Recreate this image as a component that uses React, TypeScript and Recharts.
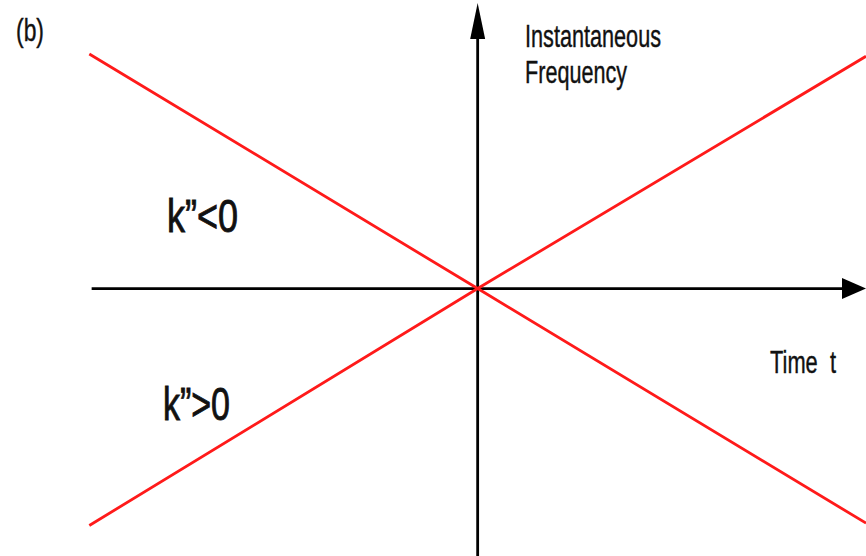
import { LineChart, Line, XAxis, YAxis, ReferenceLine } from 'recharts';

// time axis positions of the drawn segments
const timePoints = [-1, 0, 1];
// frequency along the k" < 0 line (falling) and k" > 0 line (rising)
const fallingFreq = [1, 0, -1];
const risingFreq = [-1.01, 0, 0.99];

const data = timePoints.map((t, i) => ({ t, falling: fallingFreq[i], rising: risingFreq[i] }));

const X_DOMAIN: [number, number] = [-1.23, 1.0];
const Y_DOMAIN: [number, number] = [-1.14, 1.23];

const W = 866;
const H = 556;
const FONT = '"Liberation Sans", Arial, sans-serif';

// reference line drawn as a shaft ending in a filled arrowhead
const arrowShape = (headLen: number, headHalf: number) => (props: any) => {
  const { x1, y1, x2, y2 } = props;
  const dx = x2 - x1;
  const dy = y2 - y1;
  const len = Math.sqrt(dx * dx + dy * dy) || 1;
  const ux = dx / len;
  const uy = dy / len;
  const bx = x2 - ux * headLen;
  const by = y2 - uy * headLen;
  const px = -uy * headHalf;
  const py = ux * headHalf;
  return (
    <g>
      <line x1={x1} y1={y1} x2={bx} y2={by} stroke="#000" strokeWidth={2.8} />
      <polygon points={`${x2},${y2} ${bx + px},${by + py} ${bx - px},${by - py}`} fill="#000" />
    </g>
  );
};

const Label = ({ x, y, size, len, weight = 0.4, children }: any) => (
  <text
    x={x}
    y={y}
    fontSize={size}
    fontFamily={FONT}
    fill="#111"
    stroke="#111"
    strokeWidth={weight}
    textLength={len}
    lengthAdjust="spacingAndGlyphs"
  >
    {children}
  </text>
);

export default function App() {
  return (
    <div style={{ position: 'absolute', left: 0, top: 0, width: W, height: H, background: '#fff' }}>
      <LineChart width={W} height={H} data={data} margin={{ top: 0, right: 0, bottom: 0, left: 0 }}>
        <XAxis dataKey="t" type="number" domain={X_DOMAIN} hide allowDataOverflow />
        <YAxis type="number" domain={Y_DOMAIN} hide allowDataOverflow />
        <ReferenceLine
          segment={[{ x: -0.994, y: 0 }, { x: 1.0, y: 0 }]}
          shape={arrowShape(24, 10.5)}
          ifOverflow="visible"
        />
        <ReferenceLine
          segment={[{ x: 0, y: -1.14 }, { x: 0, y: 1.217 }]}
          shape={arrowShape(36, 7.5)}
          ifOverflow="visible"
        />
        <Line
          dataKey="falling"
          stroke="#ff1a1a"
          strokeWidth={2.8}
          strokeLinecap="butt"
          dot={false}
          activeDot={false}
          isAnimationActive={false}
        />
        <Line
          dataKey="rising"
          stroke="#ff1a1a"
          strokeWidth={2.8}
          strokeLinecap="butt"
          dot={false}
          activeDot={false}
          isAnimationActive={false}
        />
      </LineChart>
      <svg width={W} height={H} style={{ position: 'absolute', left: 0, top: 0, pointerEvents: 'none' }}>
        <Label x={16} y={41} size={32} len={28}>(b)</Label>
        <Label x={525} y={47} size={31} len={136}>Instantaneous</Label>
        <Label x={525} y={83} size={31} len={102}>Frequency</Label>
        <Label x={770} y={373} size={31} len={66}>{'Time\u00a0\u00a0t'}</Label>
        <Label x={167} y={232} size={46} len={71} weight={0.9}>k”&lt;0</Label>
        <Label x={163} y={420} size={46} len={67} weight={0.9}>k”&gt;0</Label>
      </svg>
    </div>
  );
}
